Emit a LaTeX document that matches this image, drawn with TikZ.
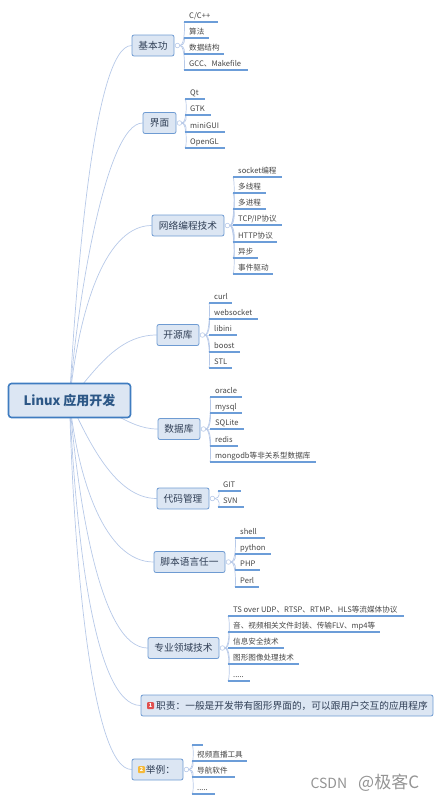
\documentclass[tikz,border=0pt]{standalone}
\usepackage{fontspec}
\setmainfont{Noto Sans CJK SC}
\usetikzlibrary{backgrounds}
\definecolor{topicfill}{HTML}{DCE6F3}
\definecolor{topicline}{HTML}{6E9BD2}
\definecolor{rootline}{HTML}{3F7CC0}
\definecolor{branchline}{HTML}{B7C9E8}
\definecolor{subline}{HTML}{6C9DD8}
\definecolor{inktext}{HTML}{2F3E55}
\definecolor{leaftext}{HTML}{454545}
\definecolor{badgered}{HTML}{E0504F}
\definecolor{badgeorange}{HTML}{F5B93A}
\begin{document}
\begin{tikzpicture}[
        x=1pt, y=-1pt,
        root/.style={draw=rootline, line width=1.6pt, fill=topicfill, rounded corners=3pt, minimum width=122pt, minimum height=34pt, inner sep=0pt, text=rootline!70!black, font=\fontsize{13}{15}\selectfont\bfseries},
        topic/.style={draw=topicline, line width=0.8pt, fill=topicfill, rounded corners=2pt, minimum height=21pt, minimum width=#1, inner sep=0pt, text=inktext, font=\fontsize{9.7}{12}\selectfont},
        knob/.style={circle, draw=branchline, fill=white, line width=0.6pt, minimum size=4.6pt, inner sep=0pt},
        leaf/.style={anchor=south west, text width=#1, inner xsep=5pt, inner ysep=1.5pt, text height=7pt, text depth=2pt, align=flush left, text=leaftext, font=\fontsize{7.6}{9}\selectfont},
        badge/.style={fill=#1, rounded corners=1pt, minimum size=7pt, inner sep=0pt, text=white, font=\fontsize{5.5}{6}\selectfont\bfseries},
        branch/.style={draw=branchline, line width=0.7pt},
        stem/.style={draw=branchline, line width=0.7pt, to path={.. controls ([xshift=5pt]\tikztostart) and ([xshift=5pt]\tikztostart |- \tikztotarget) .. (\tikztotarget)}},
        under/.style={draw=subline, line width=1.1pt},
        wmark/.style={text=black!42, font=\fontsize{14}{16}\selectfont}
    ]
    \useasboundingbox (0,0) rectangle (440,801);

    \node[root] (R) at (69.5,400.5) {Linux 应用开发};

    \node[topic=42pt] (T1) at (153,45.5) {基本功};
    \node[topic=33pt] (T2) at (159.5,123) {界面};
    \node[topic=72pt] (T3) at (188,225.5) {网络编程技术};
    \node[topic=42pt] (T4) at (178,335) {开源库};
    \node[topic=42pt] (T5) at (179,429) {数据库};
    \node[topic=52pt] (T6) at (183,498.5) {代码管理};
    \node[topic=71pt] (T7) at (189.5,562) {脚本语言任一};
    \node[topic=71pt] (T8) at (183.5,648) {专业领域技术};
    \node[topic=292pt] (T9) at (287,705.5) {\hspace*{10pt}职责：一般是开发带有图形界面的，可以跟用户交互的应用程序};
    \node[topic=51pt] (T10) at (157.5,769.5) {\hspace*{9pt}举例：\hspace*{3pt}};

    \node[badge=badgered] (B9) at (150.5,705.5) {1};
    \node[badge=badgeorange] (B10) at (141.5,769.5) {2};

    \node[knob] (K1) at ([xshift=3pt]T1.east) {};
    \node[knob] (K2) at ([xshift=3pt]T2.east) {};
    \node[knob] (K3) at ([xshift=3pt]T3.east) {};
    \node[knob] (K4) at ([xshift=3pt]T4.east) {};
    \node[knob] (K5) at ([xshift=3pt]T5.east) {};
    \node[knob] (K6) at ([xshift=3pt]T6.east) {};
    \node[knob] (K7) at ([xshift=3pt]T7.east) {};
    \node[knob] (K8) at ([xshift=3pt]T8.east) {};
    \node[knob] (K10) at ([xshift=3pt]T10.east) {};

    % 基本功
    \node[leaf=24pt] (A1) at (184,22) {C/C++};
    \node[leaf=15pt] (A2) at (184,38) {算法};
    \node[leaf=30pt] (A3) at (184,54) {数据结构};
    \node[leaf=54pt] (A4) at (184,70) {GCC、Makefile};
    % 界面
    \node[leaf=10pt] (B1) at (185,99) {Qt};
    \node[leaf=16pt] (B2) at (185,115) {GTK};
    \node[leaf=30pt] (B3) at (185,132) {miniGUI};
    \node[leaf=30pt] (B4) at (185,148) {OpenGL};
    % 网络编程技术
    \node[leaf=39pt] (C1) at (233,177) {socket编程};
    \node[leaf=23pt] (C2) at (233,193) {多线程};
    \node[leaf=23pt] (C3) at (233,209) {多进程};
    \node[leaf=39pt] (C4) at (233,225) {TCP/IP协议};
    \node[leaf=34pt] (C5) at (233,242) {HTTP协议};
    \node[leaf=15pt] (C6) at (233,258) {异步};
    \node[leaf=30pt] (C7) at (233,274) {事件驱动};
    % 开源库
    \node[leaf=13pt] (D1) at (209,303) {curl};
    \node[leaf=39pt] (D2) at (209,319) {websocket};
    \node[leaf=18pt] (D3) at (209,335) {libini};
    \node[leaf=21pt] (D4) at (209,352) {boost};
    \node[leaf=13pt] (D5) at (209,368) {STL};
    % 数据库
    \node[leaf=22pt] (E1) at (210,397) {oracle};
    \node[leaf=22pt] (E2) at (210,413) {mysql};
    \node[leaf=24pt] (E3) at (210,429) {SQLite};
    \node[leaf=18pt] (E4) at (210,446) {redis};
    \node[leaf=96pt] (E5) at (210,462) {mongodb等非关系型数据库};
    % 代码管理
    \node[leaf=13pt] (F1) at (218,491) {GIT};
    \node[leaf=16pt] (F2) at (218,507) {SVN};
    % 脚本语言任一
    \node[leaf=20pt] (G1) at (235,538) {shell};
    \node[leaf=26pt] (G2) at (235,554) {python};
    \node[leaf=15pt] (G3) at (235,570) {PHP};
    \node[leaf=14pt] (G4) at (235,587) {Perl};
    % 专业领域技术
    \node[leaf=166pt] (H1) at (228,616) {TS over UDP、RTSP、RTMP、HLS等流媒体协议};
    \node[leaf=142pt] (H2) at (228,632) {音、视频相关文件封装、传输FLV、mp4等};
    \node[leaf=46pt] (H3) at (228,648) {信息安全技术};
    \node[leaf=61pt] (H4) at (228,664) {图形图像处理技术};
    \node[leaf=12pt] (H5) at (228,681) {.....};
    % 举例
    \node[leaf=1pt] (J1) at (192,745) {};
    \node[leaf=45pt] (J2) at (192,761) {视频直播工具};
    \node[leaf=33pt] (J3) at (192,777) {导航软件};
    \node[leaf=13pt] (J4) at (192,794) {.....};

    \node[wmark, anchor=west] (W) at (307,783) {CSDN\hspace{11pt}{\fontsize{17}{19}\selectfont @极客C}};

    \begin{scope}[on background layer]
    \draw[branch] (R.center) .. controls (75,300) and (92,45.5) .. (T1.west);
    \draw[branch] (R.center) .. controls (76,310) and (105,123) .. (T2.west);
    \draw[branch] (R.center) .. controls (80,300) and (108,225.5) .. (T3.west);
    \draw[branch] (R.center) .. controls (95,370) and (118,335) .. (T4.west);
    \draw[branch] (R.center) .. controls (105,400) and (125,429) .. (T5.west);
    \draw[branch] (R.center) .. controls (88,440) and (115,498.5) .. (T6.west);
    \draw[branch] (R.center) .. controls (78,480) and (105,562) .. (T7.west);
    \draw[branch] (R.center) .. controls (78,500) and (100,648) .. (T8.west);
    \draw[branch] (R.center) .. controls (75,520) and (92,705.5) .. (T9.west);
    \draw[branch] (R.center) .. controls (73,540) and (90,769.5) .. (T10.west);
    \end{scope}

    \draw[stem] (K1.east) to (A1.south west);
    \draw[stem] (K1.east) to (A2.south west);
    \draw[stem] (K1.east) to (A3.south west);
    \draw[stem] (K1.east) to (A4.south west);
    \draw[stem] (K2.east) to (B1.south west);
    \draw[stem] (K2.east) to (B2.south west);
    \draw[stem] (K2.east) to (B3.south west);
    \draw[stem] (K2.east) to (B4.south west);
    \draw[stem] (K3.east) to (C1.south west);
    \draw[stem] (K3.east) to (C2.south west);
    \draw[stem] (K3.east) to (C3.south west);
    \draw[stem] (K3.east) to (C4.south west);
    \draw[stem] (K3.east) to (C5.south west);
    \draw[stem] (K3.east) to (C6.south west);
    \draw[stem] (K3.east) to (C7.south west);
    \draw[stem] (K4.east) to (D1.south west);
    \draw[stem] (K4.east) to (D2.south west);
    \draw[stem] (K4.east) to (D3.south west);
    \draw[stem] (K4.east) to (D4.south west);
    \draw[stem] (K4.east) to (D5.south west);
    \draw[stem] (K5.east) to (E1.south west);
    \draw[stem] (K5.east) to (E2.south west);
    \draw[stem] (K5.east) to (E3.south west);
    \draw[stem] (K5.east) to (E4.south west);
    \draw[stem] (K5.east) to (E5.south west);
    \draw[stem] (K6.east) to (F1.south west);
    \draw[stem] (K6.east) to (F2.south west);
    \draw[stem] (K7.east) to (G1.south west);
    \draw[stem] (K7.east) to (G2.south west);
    \draw[stem] (K7.east) to (G3.south west);
    \draw[stem] (K7.east) to (G4.south west);
    \draw[stem] (K8.east) to (H1.south west);
    \draw[stem] (K8.east) to (H2.south west);
    \draw[stem] (K8.east) to (H3.south west);
    \draw[stem] (K8.east) to (H4.south west);
    \draw[stem] (K8.east) to (H5.south west);
    \draw[stem] (K10.east) to (J1.south west);
    \draw[stem] (K10.east) to (J2.south west);
    \draw[stem] (K10.east) to (J3.south west);
    \draw[stem] (K10.east) to (J4.south west);

    \draw[under] (A1.south west) -- (A1.south east);
    \draw[under] (A2.south west) -- (A2.south east);
    \draw[under] (A3.south west) -- (A3.south east);
    \draw[under] (A4.south west) -- (A4.south east);
    \draw[under] (B1.south west) -- (B1.south east);
    \draw[under] (B2.south west) -- (B2.south east);
    \draw[under] (B3.south west) -- (B3.south east);
    \draw[under] (B4.south west) -- (B4.south east);
    \draw[under] (C1.south west) -- (C1.south east);
    \draw[under] (C2.south west) -- (C2.south east);
    \draw[under] (C3.south west) -- (C3.south east);
    \draw[under] (C4.south west) -- (C4.south east);
    \draw[under] (C5.south west) -- (C5.south east);
    \draw[under] (C6.south west) -- (C6.south east);
    \draw[under] (C7.south west) -- (C7.south east);
    \draw[under] (D1.south west) -- (D1.south east);
    \draw[under] (D2.south west) -- (D2.south east);
    \draw[under] (D3.south west) -- (D3.south east);
    \draw[under] (D4.south west) -- (D4.south east);
    \draw[under] (D5.south west) -- (D5.south east);
    \draw[under] (E1.south west) -- (E1.south east);
    \draw[under] (E2.south west) -- (E2.south east);
    \draw[under] (E3.south west) -- (E3.south east);
    \draw[under] (E4.south west) -- (E4.south east);
    \draw[under] (E5.south west) -- (E5.south east);
    \draw[under] (F1.south west) -- (F1.south east);
    \draw[under] (F2.south west) -- (F2.south east);
    \draw[under] (G1.south west) -- (G1.south east);
    \draw[under] (G2.south west) -- (G2.south east);
    \draw[under] (G3.south west) -- (G3.south east);
    \draw[under] (G4.south west) -- (G4.south east);
    \draw[under] (H1.south west) -- (H1.south east);
    \draw[under] (H2.south west) -- (H2.south east);
    \draw[under] (H3.south west) -- (H3.south east);
    \draw[under] (H4.south west) -- (H4.south east);
    \draw[under] (H5.south west) -- (H5.south east);
    \draw[under] (J1.south west) -- (J1.south east);
    \draw[under] (J2.south west) -- (J2.south east);
    \draw[under] (J3.south west) -- (J3.south east);
    \draw[under] (J4.south west) -- (J4.south east);
    \end{tikzpicture}
\end{document}
